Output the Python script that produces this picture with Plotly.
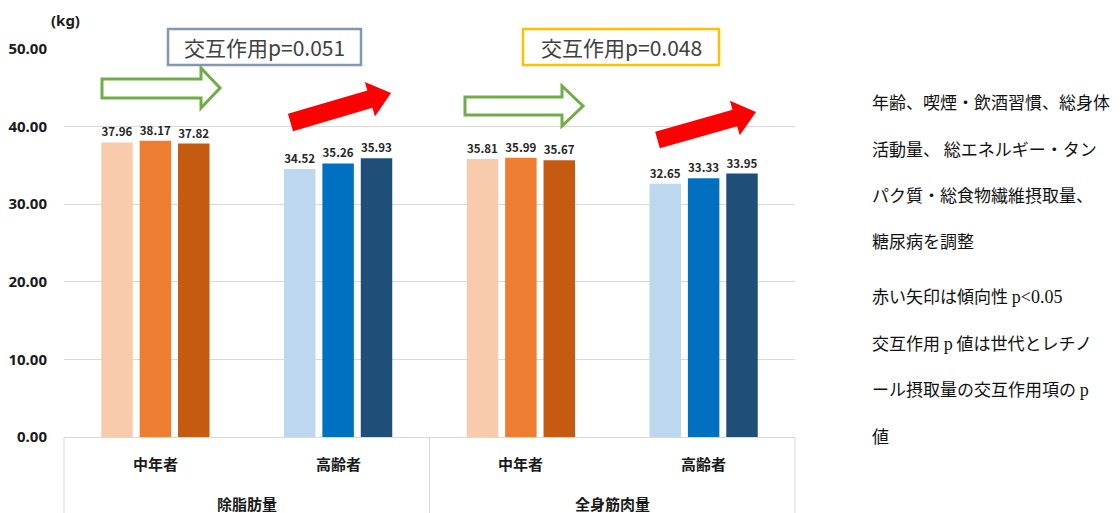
import plotly.graph_objects as go

# ---------------- data ----------------
outer_cats = ["除脂肪量", "除脂肪量", "全身筋肉量", "全身筋肉量"]
inner_cats = ["中年者", "高齢者", "中年者", "高齢者"]
tertile_names = ["T1", "T2", "T3"]
t1_values = [37.96, 34.52, 35.81, 32.65]
t2_values = [38.17, 35.26, 35.99, 33.33]
t3_values = [37.82, 35.93, 35.67, 33.95]
y_ticks = [0, 10, 20, 30, 40, 50]
interaction_labels = ["交互作用p=0.051", "交互作用p=0.048"]
note_lines = [
    "年齢、喫煙・飲酒習慣、総身体",
    "活動量、 総エネルギー・タン",
    "パク質・総食物繊維摂取量、",
    "糖尿病を調整",
    "赤い矢印は傾向性 <span style=\"font-family:'Liberation Serif';font-size:18px\">p&lt;0.05</span>",
    "交互作用 <span style=\"font-family:'Liberation Serif';font-size:18px\">p</span> 値は世代とレチノ",
    "ール摂取量の交互作用項の <span style=\"font-family:'Liberation Serif';font-size:18px\">p</span>",
    "値",
]

# ---------------- styles ----------------
colors = {
    "T1": ["#F8CBAD", "#BDD7EE", "#F8CBAD", "#BDD7EE"],
    "T2": ["#ED7D31", "#0070C0", "#ED7D31", "#0070C0"],
    "T3": ["#C55A11", "#1F4E79", "#C55A11", "#1F4E79"],
}
JP = "Noto Sans CJK JP"
W, H = 1120, 513
L, R, T, B = 64, 795, 49, 437


def px(x):
    return (x - L) / (R - L)


def py(y):
    return (B - y) / (B - T)


fig = go.Figure()
for name, vals in zip(tertile_names, [t1_values, t2_values, t3_values]):
    fig.add_trace(go.Bar(
        x=[outer_cats, inner_cats], y=vals, name=name,
        marker=dict(color=colors[name], line=dict(width=0)),
        texttemplate="%{y:.2f}", textposition="outside", cliponaxis=False,
        textfont=dict(family=JP, size=11.5, color="#262626", weight="bold"),
        showlegend=False,
    ))

fig.update_layout(
    width=W, height=H,
    margin=dict(l=L, r=W - R, t=T, b=H - B, autoexpand=False),
    paper_bgcolor="white", plot_bgcolor="white",
    barmode="group", bargap=0.37, bargroupgap=0.18,
    font=dict(family=JP, color="#1a1a1a"),
)
fig.update_yaxes(
    range=[0, 50], tickvals=y_ticks, tickformat=".2f",
    gridcolor="#D9D9D9", gridwidth=1, zeroline=False, showline=False,
    tickfont=dict(family="Noto Sans", size=15, color="#1a1a1a", weight="bold"),
    ticks="", ticklabelstandoff=16, automargin=False,
)
fig.update_xaxes(
    type="multicategory", showline=True, linecolor="#D9D9D9", linewidth=1,
    showdividers=False, showticklabels=False, ticks="", automargin=False,
)

shapes = []
annotations = []

# category table below the axis
n_cat = len(inner_cats)
for i, lab in enumerate(inner_cats):
    annotations.append(dict(x=(i + 0.5) / n_cat, y=py(463), xref="paper", yref="paper",
                            text=lab, showarrow=False, xanchor="center", yanchor="middle",
                            font=dict(family=JP, size=15, weight="bold", color="#1a1a1a")))
groups = list(dict.fromkeys(outer_cats))
for g, lab in enumerate(groups):
    annotations.append(dict(x=(g + 0.5) / len(groups), y=py(503), xref="paper", yref="paper",
                            text=lab, showarrow=False, xanchor="center", yanchor="middle",
                            font=dict(family=JP, size=15, weight="bold", color="#1a1a1a")))
for g in range(len(groups) + 1):
    xx = g / len(groups)
    shapes.append(dict(type="line", xref="paper", yref="paper", x0=xx, x1=xx,
                       y0=py(437), y1=py(520), line=dict(color="#D9D9D9", width=1)))

# unit label
annotations.append(dict(x=px(65), y=py(20), xref="paper", yref="paper",
                        text="(kg)", showarrow=False, xanchor="center", yanchor="middle",
                        font=dict(family="Noto Sans", size=15, weight="bold", color="#1a1a1a")))

# interaction boxes
boxes = [((168, 29, 361, 65), "#8497B0"), ((523, 29, 719, 65), "#FFC000")]
for (x0, y0, x1, y1), col in boxes:
    shapes.append(dict(type="rect", xref="paper", yref="paper",
                       x0=px(x0), x1=px(x1), y0=py(y1), y1=py(y0),
                       line=dict(color=col, width=2.5), fillcolor="white", layer="above"))
for ((x0, y0, x1, y1), _), txt in zip(boxes, interaction_labels):
    annotations.append(dict(x=px((x0 + x1) / 2), y=py((y0 + y1) / 2), xref="paper", yref="paper",
                            text=txt, showarrow=False, xanchor="center", yanchor="middle",
                            font=dict(family=JP, size=21, color="#404040")))


def poly_path(pts):
    return "M " + " L ".join(f"{px(x):.5f},{py(y):.5f}" for x, y in pts) + " Z"


# hollow green arrows (flat trend)
def flat_arrow(x0, xb, xt, ys0, ys1, yh0, yh1):
    ym = (yh0 + yh1) / 2
    return [(x0, ys0), (xb, ys0), (xb, yh0), (xt, ym), (xb, yh1), (xb, ys1), (x0, ys1)]


for pts in [flat_arrow(102, 201, 220, 79, 98, 68, 108),
            flat_arrow(465, 562, 583, 97, 115, 86, 126)]:
    shapes.append(dict(type="path", xref="paper", yref="paper", path=poly_path(pts),
                       fillcolor="white", line=dict(color="#70AD47", width=3), layer="above"))


# red arrows (significant trend)
def tilted_arrow(tail, tip, hs, hh, hl):
    dx, dy = tip[0] - tail[0], tip[1] - tail[1]
    ln = (dx * dx + dy * dy) ** 0.5
    ux, uy = dx / ln, dy / ln
    nx, ny = -uy, ux
    bx, by = tip[0] - ux * hl, tip[1] - uy * hl
    return [(tail[0] + nx * hs, tail[1] + ny * hs), (bx + nx * hs, by + ny * hs),
            (bx + nx * hh, by + ny * hh), tip, (bx - nx * hh, by - ny * hh),
            (bx - nx * hs, by - ny * hs), (tail[0] - nx * hs, tail[1] - ny * hs)]


for pts in [tilted_arrow((290.5, 122.5), (391, 93), 9, 18, 22),
            tilted_arrow((657.5, 140), (756, 112), 8.5, 18, 22)]:
    shapes.append(dict(type="path", xref="paper", yref="paper", path=poly_path(pts),
                       fillcolor="#FF0000", line=dict(color="#FF0000", width=0), layer="above"))

# notes on the right
note_y = [102, 148, 194, 240, 295, 342, 388, 435]
for txt, yy in zip(note_lines, note_y):
    annotations.append(dict(x=px(870), y=py(yy), xref="paper", yref="paper",
                            text=txt, showarrow=False, xanchor="left", yanchor="middle",
                            font=dict(family=JP, size=17, color="#111111")))

fig.update_layout(shapes=shapes, annotations=annotations)
fig.write_html("out.html")
